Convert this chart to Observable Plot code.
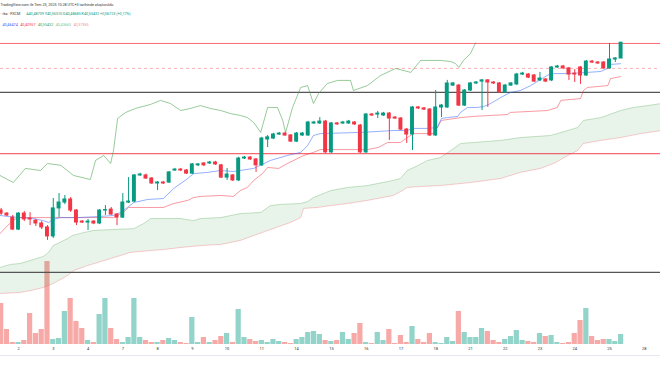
<!DOCTYPE html>
<html><head><meta charset="utf-8">
<script src="https://cdn.jsdelivr.net/npm/d3@7"></script>
<script src="https://cdn.jsdelivr.net/npm/@observablehq/plot@0.6"></script>
<style>
body{margin:0;background:#fff;}
#wrap{position:relative;width:660px;height:365px;overflow:hidden;background:#fff;font-family:Roboto,"Noto Sans",sans-serif;}
#wrap > div{position:absolute;left:0;top:0;}
#sep{top:355px !important;width:660px;height:1px;background:#e6e8ee;}
</style></head><body>
<div id="wrap"><div id="vol"></div><div id="sep"></div><div id="main"></div><div id="hdr"></div></div>
<script>
// ---- candle data (4h candles, USD/TRY) ----
const candleOpen = [39.841,39.828,39.811,39.760,39.828,39.807,39.798,39.786,39.769,39.731,
39.850,39.875,39.888,39.841,39.794,39.790,39.794,39.786,39.841,39.845,
39.824,39.811,39.875,39.879,39.990,39.990,39.977,39.956,39.960,39.960,
40.011,40.015,40.011,39.998,40.033,40.041,40.041,40.045,40.033,39.981,
39.990,39.969,40.062,40.066,40.058,40.033,40.143,40.147,40.164,40.168,
40.160,40.134,40.160,40.160,40.211,40.211,40.219,40.088,40.211,40.211,
40.211,40.215,40.202,40.088,40.249,40.249,40.245,40.253,40.236,40.232,
40.185,40.164,40.279,40.275,40.270,40.160,40.279,40.279,40.372,40.372,
40.287,40.351,40.381,40.389,40.394,40.385,40.381,40.343,40.372,40.377,
40.419,40.419,40.415,40.394,40.398,40.394,40.449,40.453,40.445,40.423,
40.449,40.415,40.474,40.470,40.470,40.445,40.483,40.48709];
const candleHigh = [39.850,39.832,39.820,39.832,39.837,39.832,39.803,39.794,39.777,39.892,
39.913,39.905,39.896,39.845,39.798,39.803,39.798,39.845,39.862,39.854,
39.828,39.913,39.981,39.994,39.999,39.996,39.981,39.964,39.964,40.007,
40.020,40.020,40.015,40.041,40.041,40.045,40.050,40.050,40.037,40.020,
39.994,40.067,40.071,40.071,40.062,40.152,40.160,40.169,40.173,40.173,
40.164,40.173,40.173,40.220,40.220,40.236,40.224,40.215,40.215,40.220,
40.224,40.219,40.207,40.253,40.253,40.262,40.258,40.258,40.241,40.236,
40.190,40.283,40.283,40.279,40.275,40.351,40.292,40.394,40.385,40.377,
40.355,40.385,40.389,40.398,40.398,40.389,40.385,40.377,40.385,40.424,
40.428,40.423,40.419,40.428,40.402,40.453,40.458,40.458,40.449,40.440,
40.453,40.479,40.479,40.474,40.474,40.551,40.491,40.55510];
const candleLow = [39.820,39.815,39.756,39.756,39.794,39.777,39.773,39.760,39.714,39.722,
39.811,39.866,39.833,39.777,39.786,39.756,39.781,39.781,39.820,39.820,
39.777,39.807,39.871,39.875,39.986,39.973,39.952,39.926,39.952,39.956,
40.007,40.007,39.994,39.994,40.028,40.028,40.037,40.033,39.977,39.969,
39.964,39.964,40.058,40.054,40.003,40.028,40.109,40.143,40.160,40.156,
40.130,40.130,40.156,40.156,40.207,40.207,40.084,40.084,40.203,40.207,
40.207,40.203,40.084,40.084,40.241,40.232,40.241,40.139,40.228,40.181,
40.126,40.096,40.270,40.266,40.156,40.156,40.236,40.275,40.368,40.283,
40.283,40.347,40.377,40.266,40.279,40.377,40.338,40.338,40.368,40.372,
40.415,40.402,40.385,40.389,40.385,40.389,40.445,40.441,40.394,40.385,
40.377,40.411,40.466,40.462,40.441,40.441,40.470,40.48685];
const candleClose = [39.828,39.820,39.760,39.828,39.803,39.803,39.786,39.769,39.731,39.850,
39.875,39.888,39.841,39.790,39.790,39.794,39.786,39.841,39.843,39.824,
39.811,39.875,39.879,39.990,39.994,39.977,39.956,39.960,39.956,40.003,
40.015,40.011,39.998,40.037,40.037,40.033,40.045,40.037,39.981,39.994,
39.969,40.062,40.066,40.058,40.033,40.147,40.152,40.164,40.168,40.160,
40.134,40.168,40.168,40.215,40.215,40.219,40.088,40.211,40.207,40.215,
40.219,40.207,40.088,40.249,40.245,40.253,40.253,40.232,40.232,40.185,
40.164,40.279,40.275,40.270,40.160,40.279,40.287,40.381,40.381,40.287,
40.351,40.381,40.385,40.394,40.385,40.381,40.343,40.372,40.381,40.419,
40.423,40.406,40.389,40.402,40.389,40.449,40.453,40.445,40.419,40.419,
40.415,40.474,40.470,40.466,40.445,40.483,40.487,40.55432];
const volume = [41,15,2,2,4,31,11,15,83,5, 6,33,46,23,16,4,2,30,46,16,
5,2,7,46,7,4,2,2,4,6, 4,2,1,27,2,7,2,4,8,11, 2,35,7,5,3,4,2,5,3,2,
1,5,7,12,13,10,4,3,4,12, 5,11,21,2,1,12,4,15,1,9, 2,18,5,2,11,2,1,7,3,33,
12,7,7,16,13,4,2,5,8,14, 4,3,2,11,8,9,2,1,2,11, 24,36,8,4,5,5,3,10];

// ---- time axis ----
const dayTickIndex = [3,9,15,21,27,33,39,45,51,57,63,69,75,81,87,93,99,105,111];
const dayTickLabels = ["2","3","4","7","8","9","10","11","14","15","16","17","18","21","22","23","24","25","28"];

// ---- Ichimoku lines (bar index, price) ----
const tenkanIdx = [-0.2,1.1,3.3,5.6,7.3,8.2,8.9,10.3,13.2,17.2,19.4,20.6,21.8,22.9,25.3,28.0,29.8,32.2,33.2,35.6,37.9,40.1,43.6,46.5,49.4,51.7,52.9,53.9,55.1,62.0,65.0,67.7,70.1,71.0,73.6,75.3,76.0,77.0,78.8,79.3,80.5,82.2,83.3,84.5,86.2,87.9,89.6,91.4,93.1,94.8,97.8,101.2,103.5,104.7,105.2,106.9];
const tenkanVal = [39.820,39.816,39.811,39.807,39.798,39.790,39.803,39.811,39.811,39.816,39.820,39.833,39.854,39.875,39.888,39.892,39.935,39.977,39.998,40.003,40.011,40.007,40.020,40.054,40.075,40.088,40.117,40.160,40.168,40.173,40.177,40.181,40.181,40.190,40.190,40.194,40.232,40.236,40.241,40.258,40.279,40.279,40.283,40.296,40.321,40.343,40.351,40.372,40.398,40.423,40.423,40.428,40.432,40.445,40.462,40.465];
const kijunIdx = [-0.2,1.1,2.1,2.8,19.4,21.1,22.0,28.0,29.8,32.2,33.2,34.4,37.9,40.1,41.3,42.5,43.6,45.1,46.0,47.9,49.4,50.5,52.2,53.9,55.1,63.2,65.1,66.7,68.9,70.1,71.2,74.6,76.0,79.3,81.5,87.4,87.9,94.3,96.0,96.6,100.0,100.5,101.2,104.7,105.2,106.9];
const kijunVal = [39.743,39.777,39.798,39.811,39.811,39.833,39.854,39.854,39.871,39.884,39.896,39.901,39.905,39.901,39.926,39.939,39.969,39.998,40.024,40.020,40.041,40.054,40.075,40.088,40.100,40.100,40.109,40.130,40.130,40.151,40.168,40.168,40.224,40.236,40.241,40.249,40.258,40.266,40.279,40.309,40.317,40.351,40.364,40.372,40.402,40.410];
const chikouIdx = [-0.2,2.1,4.2,6.8,8.0,10.3,12.5,15.4,16.3,17.7,18.9,19.4,20.1,21.5,23.2,25.8,27.5,29.2,31.0,32.7,34.4,36.1,37.9,39.6,41.3,42.5,43.6,44.8,46.0,47.7,48.6,49.1,50.3,51.7,52.9,53.9,54.8,56.3,58.1,60.3,60.8,63.2,65.5,68.1,70.7,72.4,75.8,77.6,78.4,79.0,79.8,81.0,81.9];
const chikouVal = [39.990,39.960,40.020,40.011,40.041,40.033,39.990,39.973,40.054,40.075,40.041,40.096,40.232,40.258,40.275,40.292,40.309,40.296,40.266,40.275,40.287,40.275,40.266,40.253,40.245,40.236,40.215,40.173,40.279,40.279,40.224,40.173,40.279,40.364,40.372,40.296,40.338,40.381,40.394,40.394,40.351,40.372,40.415,40.445,40.428,40.479,40.479,40.474,40.466,40.449,40.479,40.508,40.554];
const cloudUpperIdx = [-0.2,1.6,3.3,5.6,7.3,8.2,9.0,11.5,12.3,14.2,15.9,18.9,22.9,24.6,25.8,31.0,33.2,34.4,37.9,41.3,44.8,46.5,48.2,51.7,52.9,53.9,56.9,59.8,63.2,67.7,68.9,70.1,71.9,73.6,75.8,77.6,79.3,81.5,86.2,89.6,94.8,97.8,99.5,100.5,103.5,106.9,109.1,111.6,114.0];
const cloudUpperVal = [39.599,39.612,39.616,39.633,39.646,39.663,39.692,39.722,39.735,39.747,39.756,39.760,39.764,39.786,39.807,39.807,39.798,39.807,39.811,39.828,39.833,39.862,39.867,39.871,39.879,39.896,39.926,39.939,39.947,39.969,39.977,40.011,40.032,40.054,40.066,40.096,40.126,40.130,40.139,40.151,40.160,40.181,40.194,40.224,40.236,40.266,40.279,40.287,40.296];
const cloudLowerIdx = [-0.2,3.3,5.1,7.3,9.0,11.5,12.5,14.9,17.2,18.9,22.3,25.8,28.0,31.0,34.4,37.9,41.3,46.0,49.9,51.7,52.2,54.6,56.9,59.8,63.2,67.7,69.3,70.1,72.4,75.8,81.0,86.2,89.6,93.1,95.7,97.8,99.5,100.5,103.5,106.9,110.4,114.0];
const cloudLowerVal = [39.488,39.493,39.501,39.514,39.531,39.565,39.586,39.607,39.624,39.637,39.663,39.671,39.675,39.684,39.692,39.697,39.714,39.756,39.790,39.811,39.850,39.854,39.862,39.871,39.884,39.905,39.926,39.939,39.943,39.947,39.960,39.977,40.003,40.020,40.045,40.075,40.096,40.126,40.139,40.151,40.168,40.181];

// ---- horizontal levels ----
const levelResistance = [40.551];
const levelDashed = [40.445];
const levelGray = [40.343, 39.578];
const levelSupport = [40.083];

// ---- header texts ----
const headerTitle = "TradingView.com ile Tem 25, 2025 10:28 UTC+3 tarihinde oluşturuldu";
const headerSymbol = "· rka · FXCM ";
const headerOHLC = "A40,48709 Y40,55510 D40,48685 K40,55432 +0,06723 (+0,17%)";
const ichimokuValues = ["40,46474","40,40957","40,55432","40,43663","40,37365"];
const ichimokuColors = ["#2962ff","#f23645","#43a047","#81c784","#f28b94"];

const UP = "#089981", DOWN = "#f23645";
const candles = candleOpen.map((o, i) => ({i, open: o, high: candleHigh[i], low: candleLow[i], close: candleClose[i], vol: volume[i], up: candleClose[i] >= o}));
const pts = (ix, v) => ix.map((x, k) => ({i: x, v: v[k]}));
const tenkan = pts(tenkanIdx, tenkanVal);
const kijun = pts(kijunIdx, kijunVal);
const chikou = pts(chikouIdx, chikouVal);
const cloudUpper = pts(cloudUpperIdx, cloudUpperVal);
const cloudLower = pts(cloudLowerIdx, cloudLowerVal);
const cloudPoly = [...cloudUpper, ...cloudLower.slice().reverse()];

const xDomain = [-0.107, 113.8];

const vol = Plot.plot({
  width: 660, height: 365, marginTop: 0, marginBottom: 21, marginLeft: 0, marginRight: 0,
  x: {domain: xDomain, axis: null},
  y: {domain: [0, 344], axis: null},
  style: {background: "transparent", color: "#333", fontFamily: "Roboto, 'Noto Sans', sans-serif"},
  marks: [
    Plot.rect(candles, {x1: d => d.i - 0.45, x2: d => d.i + 0.45, y1: 0, y2: "vol", fill: d => d.up ? "#92d3ca" : "#f7a9a7"}),
    Plot.axisX({ticks: dayTickIndex, tickFormat: d => dayTickLabels[dayTickIndex.indexOf(d)], tickSize: 0, tickPadding: 3, fontSize: 4})
  ]
});
document.getElementById("vol").appendChild(vol);

const main = Plot.plot({
  width: 660, height: 365, margin: 0,
  x: {domain: xDomain, axis: null},
  y: {domain: [39.1824, 40.7336], axis: null},
  style: {background: "transparent"},
  marks: [
    Plot.line(cloudPoly, {x: "i", y: "v", fill: "#43a047", fillOpacity: 0.12, stroke: "none"}),
    Plot.line(cloudUpper, {x: "i", y: "v", stroke: "#43a047", strokeOpacity: 0.3, strokeWidth: 1}),
    Plot.line(cloudLower, {x: "i", y: "v", stroke: "#f23645", strokeOpacity: 0.25, strokeWidth: 1}),
    Plot.ruleY(levelResistance, {stroke: "#f23645", strokeOpacity: 0.75, strokeWidth: 1}),
    Plot.ruleY(levelDashed, {stroke: "#f23645", strokeOpacity: 0.4, strokeWidth: 1, strokeDasharray: "3,3"}),
    Plot.ruleY(levelGray, {stroke: "#555", strokeWidth: 1.3}),
    Plot.ruleY(levelSupport, {stroke: "#f23645", strokeOpacity: 0.75, strokeWidth: 1.3}),
    Plot.line(chikou, {x: "i", y: "v", stroke: "#43a047", strokeOpacity: 0.55, strokeWidth: 1}),
    Plot.line(kijun, {x: "i", y: "v", stroke: "#f23645", strokeOpacity: 0.5, strokeWidth: 1}),
    Plot.line(tenkan, {x: "i", y: "v", stroke: "#2962ff", strokeOpacity: 0.5, strokeWidth: 1}),
    Plot.ruleX(candles, {x: "i", y1: "low", y2: "high", stroke: d => d.up ? UP : DOWN, strokeWidth: 1}),
    Plot.rect(candles, {x1: d => d.i - 0.34, x2: d => d.i + 0.34, y1: "open", y2: "close", fill: d => d.up ? UP : DOWN, insetTop: -0.5, insetBottom: -0.5})
  ]
});
document.getElementById("main").appendChild(main);

// header texts
const hdr = d3.select("#hdr").append("svg").attr("width", 660).attr("height", 32)
  .style("font-family", "Roboto, 'Noto Sans', sans-serif");
hdr.append("text").attr("x", 0.5).attr("y", 6.3).attr("font-size", 3.7).attr("fill", "#333").text(headerTitle);
const t2 = hdr.append("text").attr("x", 0.5).attr("y", 15).attr("font-size", 3.7);
t2.append("tspan").attr("fill", "#333").text(headerSymbol);
t2.append("tspan").attr("fill", UP).attr("dx", 5).text(headerOHLC);
const t3 = hdr.append("text").attr("x", 2.5).attr("y", 26).attr("font-size", 3.7);
ichimokuValues.forEach((v, k) => t3.append("tspan").attr("fill", ichimokuColors[k]).attr("dx", k ? 2.5 : 0).text(v));
</script></body></html>
